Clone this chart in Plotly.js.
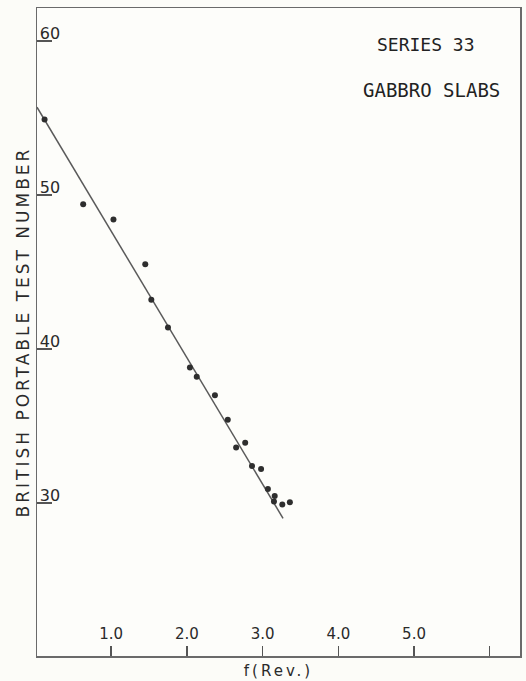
<!DOCTYPE html>
<html>
<head>
<meta charset="utf-8">
<script src="https://cdn.plot.ly/plotly-3.0.1.min.js"></script>
<style>
html,body{margin:0;padding:0;background:#fcfcf8;}
#chart{width:526px;height:681px;}
</style>
</head>
<body>
<div id="chart"></div>
<script>
// Measured test points: f(Rev.) vs British Portable Test Number
var fRev = [0.12, 0.63, 1.03, 1.45, 1.53, 1.75, 2.04, 2.13, 2.37, 2.54, 2.65, 2.77, 2.86, 2.98, 3.07, 3.16, 3.15, 3.26, 3.36];
var bptn = [54.9, 49.4, 48.4, 45.5, 43.2, 41.4, 38.8, 38.2, 37.0, 35.4, 33.6, 33.9, 32.4, 32.2, 30.9, 30.45, 30.1, 29.9, 30.05];

// Fitted straight line endpoints
var fitX = [0.02, 3.27];
var fitY = [55.7, 29.0];

// Axis ticks
var xTickVals = [1, 2, 3, 4, 5, 6];
var xTickText = ['1.0', '2.0', '3.0', '4.0', '5.0', ''];
var yTickVals = [30, 40, 50, 60];
var yTickText = ['30', '40', '50', '60'];

var seriesLabel = 'SERIES 33';
var materialLabel = 'GABBRO SLABS';

var traces = [
  {
    x: fitX, y: fitY, type: 'scatter', mode: 'lines',
    line: {color: '#5a5a5a', width: 1.5},
    hoverinfo: 'skip', showlegend: false
  },
  {
    x: fRev, y: bptn, type: 'scatter', mode: 'markers',
    marker: {color: '#2e2e2e', size: 6},
    showlegend: false
  }
];

var layout = {
  width: 526, height: 681,
  margin: {l: 37, r: 6, t: 8, b: 25},
  paper_bgcolor: '#fcfcf8',
  plot_bgcolor: '#fdfdfa',
  showlegend: false,
  xaxis: {
    range: [0.02, 6.4],
    showgrid: false, zeroline: false,
    showline: true, mirror: true, linecolor: '#6a6a6a', linewidth: 1.5,
    tickmode: 'array', tickvals: xTickVals, ticktext: xTickText,
    ticks: 'inside', ticklen: 10, tickwidth: 1.5, tickcolor: '#555',
    ticklabelposition: 'inside', ticklabelstandoff: 4,
    tickfont: {family: 'DejaVu Sans', size: 15, color: '#2a2a2a'},
    title: {text: '<span style="letter-spacing:3px">f(Rev.)</span>', font: {family: 'DejaVu Sans', size: 15, color: '#2a2a2a'}, standoff: 23}
  },
  yaxis: {
    range: [20.06, 62.14],
    showgrid: false, zeroline: false,
    showline: true, mirror: true, linecolor: '#6a6a6a', linewidth: 1.5,
    tickmode: 'array', tickvals: yTickVals, ticktext: yTickText,
    ticks: 'inside', ticklen: 15, tickwidth: 1.5, tickcolor: '#555',
    ticklabelposition: 'inside', ticklabelshift: -8, ticklabelstandoff: -12,
    tickfont: {family: 'DejaVu Sans', size: 16, color: '#2a2a2a'},
    title: {text: '<span style="letter-spacing:3px">BRITISH PORTABLE TEST NUMBER</span>', font: {family: 'DejaVu Sans', size: 17, color: '#2a2a2a'}, standoff: 6}
  },
  annotations: [
    {xref: 'paper', yref: 'paper', x: 0.806, y: 0.944, xanchor: 'center', yanchor: 'middle',
     text: seriesLabel, showarrow: false, font: {family: 'DejaVu Sans Mono', size: 18, color: '#222'}},
    {xref: 'paper', yref: 'paper', x: 0.817, y: 0.873, xanchor: 'center', yanchor: 'middle',
     text: materialLabel, showarrow: false, font: {family: 'DejaVu Sans Mono', size: 19, color: '#222'}}
  ]
};

Plotly.newPlot('chart', traces, layout, {staticPlot: true, displayModeBar: false});
</script>
</body>
</html>
